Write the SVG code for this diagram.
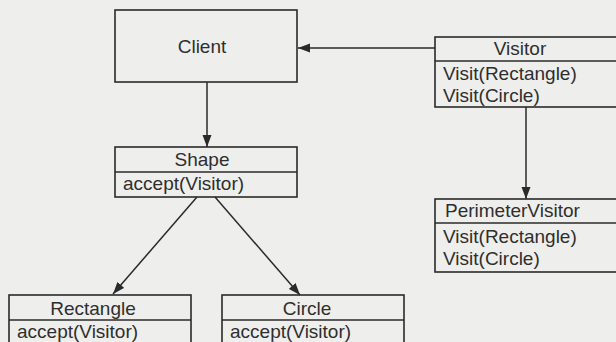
<svg xmlns="http://www.w3.org/2000/svg" width="616" height="342" viewBox="0 0 616 342">
  <style>
    .box { fill: none; stroke: #2a2a2a; stroke-width: 1.6; }
    .sep { stroke: #2a2a2a; stroke-width: 1.6; }
    .edge { fill: none; stroke: #2a2a2a; stroke-width: 1.5; }
    text { font-family: "Liberation Sans", Arial, sans-serif; font-size: 19px; fill: #2e2e2e; }
    .c { text-anchor: middle; }
  </style>
  <defs>
    <marker id="arrow" viewBox="0 0 12 10" refX="12" refY="5" markerWidth="12" markerHeight="10" markerUnits="userSpaceOnUse" orient="auto">
      <path d="M0,0.5 L12,5 L0,9.5 Z" fill="#2a2a2a"/>
    </marker>
  </defs>

  <rect width="616" height="342" fill="#eeeeec"/>

  <!-- connectors -->
  <g id="connectors">
    <line class="edge" x1="435" y1="48" x2="298" y2="48" marker-end="url(#arrow)"/>
    <line class="edge" x1="207" y1="82" x2="207" y2="147" marker-end="url(#arrow)"/>
    <line class="edge" x1="526" y1="107" x2="526" y2="199" marker-end="url(#arrow)"/>
    <line class="edge" x1="197" y1="197" x2="113" y2="294" marker-end="url(#arrow)"/>
    <line class="edge" x1="215" y1="197" x2="300" y2="295" marker-end="url(#arrow)"/>
  </g>

  <!-- Client -->
  <g id="client">
    <rect class="box" x="115" y="10" width="182" height="72"/>
    <text class="c" x="202" y="53">Client</text>
  </g>

  <!-- Visitor (box runs past the right edge) -->
  <g id="visitor">
    <rect class="box" x="435" y="37" width="190" height="70"/>
    <line class="sep" x1="435" y1="61" x2="625" y2="61"/>
    <text class="c" x="520" y="55">Visitor</text>
    <text x="443" y="80">Visit(Rectangle)</text>
    <text x="443" y="102">Visit(Circle)</text>
  </g>

  <!-- Shape -->
  <g id="shape">
    <rect class="box" x="115" y="147" width="182" height="50"/>
    <line class="sep" x1="115" y1="172" x2="297" y2="172"/>
    <text class="c" x="202" y="166">Shape</text>
    <text x="123" y="190">accept(Visitor)</text>
  </g>

  <!-- PerimeterVisitor (box runs past the right edge) -->
  <g id="perimeter-visitor">
    <rect class="box" x="435" y="199" width="190" height="73"/>
    <line class="sep" x1="435" y1="223" x2="625" y2="223"/>
    <text x="445" y="217">PerimeterVisitor</text>
    <text x="443" y="243">Visit(Rectangle)</text>
    <text x="443" y="265">Visit(Circle)</text>
  </g>

  <!-- Rectangle -->
  <g id="rectangle">
    <rect class="box" x="9" y="295" width="182" height="60"/>
    <line class="sep" x1="9" y1="320" x2="191" y2="320"/>
    <text class="c" x="93" y="315">Rectangle</text>
    <text x="17" y="338">accept(Visitor)</text>
  </g>

  <!-- Circle -->
  <g id="circle">
    <rect class="box" x="222" y="295" width="182" height="60"/>
    <line class="sep" x1="222" y1="320" x2="404" y2="320"/>
    <text class="c" x="307" y="315">Circle</text>
    <text x="230" y="338">accept(Visitor)</text>
  </g>
</svg>
